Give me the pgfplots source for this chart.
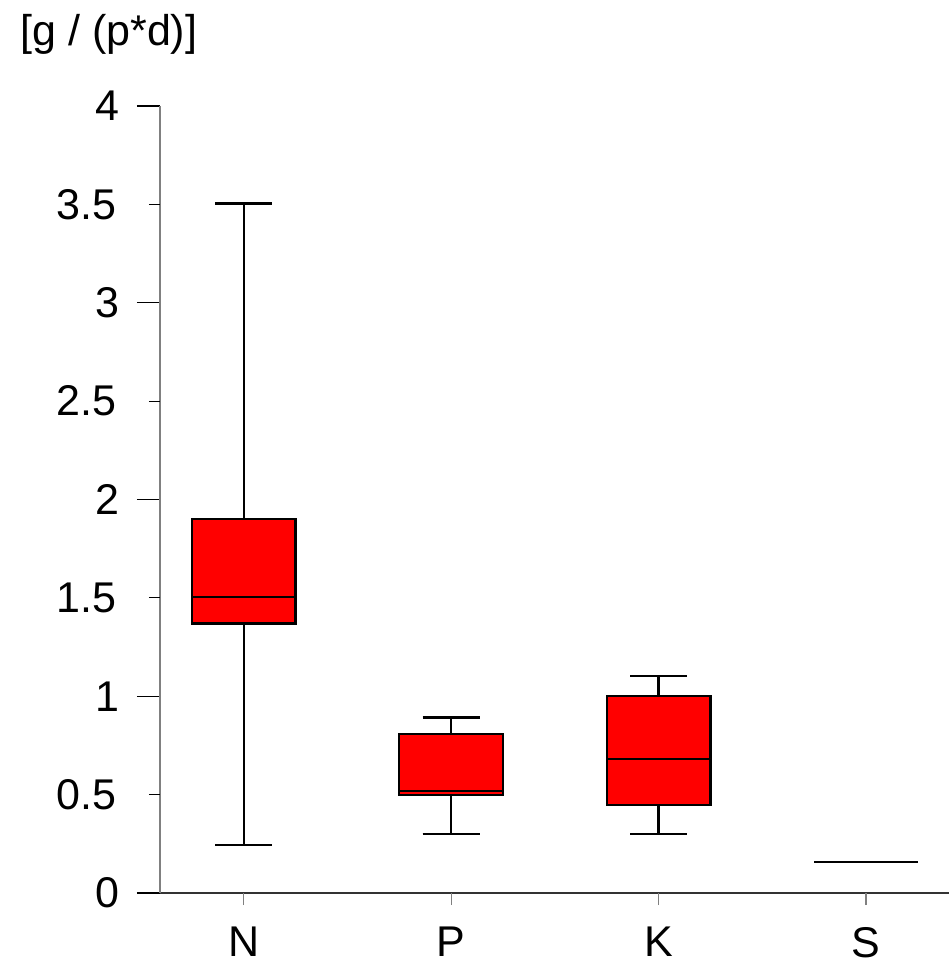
\documentclass[border=0pt]{standalone}
\usepackage{fontspec}
\setmainfont{Liberation Sans}
\usepackage{pgfplots}
\pgfplotsset{compat=1.18}
\usepgfplotslibrary{statistics}
\definecolor{boxred}{RGB}{255,0,0}
\begin{document}
\begin{tikzpicture}[x=1pt,y=1pt]
\useasboundingbox (0,0) rectangle (474.5,482);
\node[anchor=base west, inner sep=0pt, font=\fontsize{21.5}{25}\selectfont] at (10,459) {[g / (p*d)]};
\begin{axis}[
  at={(80pt,35.5pt)}, anchor=south west,
  scale only axis, width=394.5pt, height=393.5pt,
  xmin=0.5965, xmax=4.40, ymin=0, ymax=4,
  axis x line=bottom, axis y line=left,
  x axis line style={-, color=black!80, line width=0.6pt},
  y axis line style={-, color=black!50, line width=0.6pt},
  tick align=outside,
  major tick length=11.5pt,
  xtick=\empty,
  extra x ticks={1,2,3,4}, extra x tick labels={N,P,K,S},
  extra x tick style={major tick length=6pt, tick style={color=black!50, line width=0.6pt}},
  xticklabel style={yshift=-7.5pt},
  ytick={0,1,2,3,4},
  yticklabel style={xshift=-5.5pt},
  extra y ticks={0.5,1.5,2.5,3.5},
  extra y tick labels={0.5,1.5,2.5,3.5},
  extra y tick style={major tick length=5.5pt, tick style={color=black, line width=0.6pt}, yticklabel style={xshift=-7.5pt}},
  ytick style={color=black, line width=0.6pt},
  minor tick num=0,
  tick label style={font=\fontsize{21.5}{25}\selectfont},
  /pgf/number format/assume math mode=true,
  clip=false,
  boxplot/draw direction=y,
  boxplot/box extend=0.5,
  boxplot/whisker extend=0.275,
]
\addplot[draw=black, fill=boxred, line width=1.1pt, solid,
  boxplot prepared={draw position=1, lower whisker=0.244, lower quartile=1.370, median=1.504, upper quartile=1.900, upper whisker=3.504}]
  coordinates {};
\addplot[draw=black, fill=boxred, line width=1.1pt, solid,
  boxplot prepared={draw position=2, lower whisker=0.300, lower quartile=0.498, median=0.520, upper quartile=0.809, upper whisker=0.892}]
  coordinates {};
\addplot[draw=black, fill=boxred, line width=1.1pt, solid,
  boxplot prepared={draw position=3, lower whisker=0.300, lower quartile=0.449, median=0.682, upper quartile=1.001, upper whisker=1.101}]
  coordinates {};
\addplot[draw=black, fill=boxred, line width=1.1pt, solid,
  boxplot prepared={draw position=4, lower whisker=0.159, lower quartile=0.159, median=0.159, upper quartile=0.159, upper whisker=0.159}]
  coordinates {};
\end{axis}
\end{tikzpicture}
\end{document}
